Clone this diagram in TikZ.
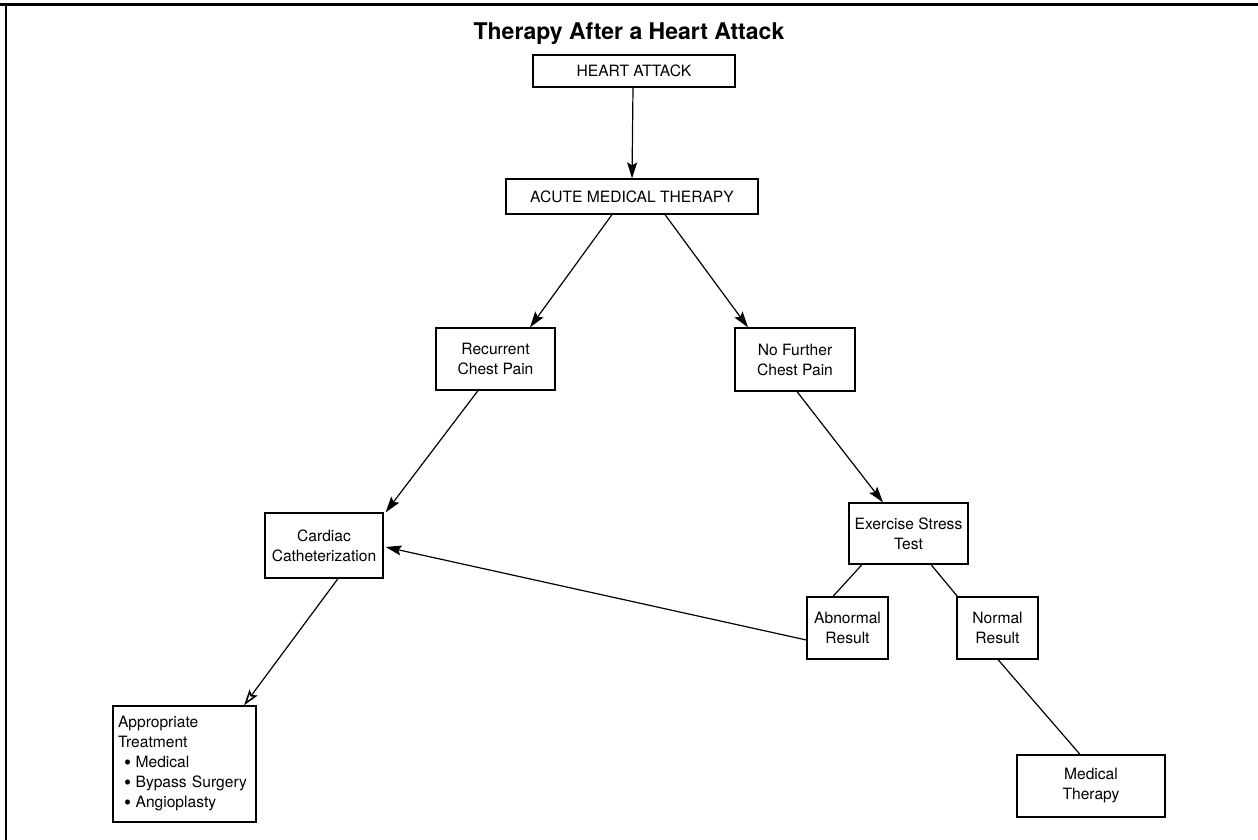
\documentclass[tikz,border=0pt]{standalone}
\usepackage{fontspec}
\setmainfont{TeX Gyre Heros}
\usetikzlibrary{arrows.meta,shadows,calc}
\newcommand{\bigbul}{\hspace*{6pt}\smash{\raisebox{-1.6pt}{\scalebox{1.3}{\textbullet}}}\hspace{4.5pt}}
\tikzset{
  box/.style={draw=black, line width=1.2pt, fill=white, inner sep=2pt, align=center,
    font=\fontsize{15.6}{20}\selectfont,
    drop shadow={shadow xshift=1.4pt, shadow yshift=-1.4pt, fill=black, opacity=1}},
  arr/.style={line width=1.2pt, -{Stealth[length=16pt,width=10pt,inset=3pt]}},
  oarr/.style={line width=1.2pt, -{Stealth[open,length=16pt,width=10pt,inset=3pt,line width=1.6pt]}},
  ln/.style={line width=1.2pt},
}
\begin{document}
\begin{tikzpicture}[x=1pt,y=-1pt]
\useasboundingbox (0,0) rectangle (1258,840);
\fill[white] (0,0) rectangle (1258,840);
% frame
\coordinate (ftl) at (6,5);
\coordinate (ftr) at (1258,5);
\coordinate (fbl) at (6,840);
\draw[line width=3pt] (0,5) -- (ftr);
\draw[line width=2.5pt] (ftl) -- (fbl);
% title
\node[anchor=base, font=\fontsize{23}{27}\bfseries\selectfont] (title) at (629,40) {Therapy After a Heart Attack};
% boxes
\node[box, minimum width=202pt, minimum height=32pt] (HA) at (634,71) {HEART ATTACK};
\node[box, minimum width=252pt, minimum height=35pt] (AMT) at (632,196.5) {ACUTE MEDICAL THERAPY};
\node[box, minimum width=119pt, minimum height=62pt] (RCP) at (495.5,359) {Recurrent\\Chest Pain};
\node[box, minimum width=120pt, minimum height=63pt] (NFCP) at (795,359.5) {No Further\\Chest Pain};
\node[box, minimum width=118pt, minimum height=65pt] (CC) at (324,545.5) {Cardiac\\Catheterization};
\node[box, minimum width=119pt, minimum height=61pt] (EST) at (908.5,533.5) {Exercise Stress\\Test};
\node[box, minimum width=81pt, minimum height=62pt] (AR) at (847.5,628) {Abnormal\\Result};
\node[box, minimum width=81pt, minimum height=62pt] (NR) at (997.5,628) {Normal\\Result};
\node[box, minimum width=143pt, minimum height=116pt, text width=133pt, inner xsep=5pt, align=left] (AT) at (184.5,764)
  {Appropriate\\Treatment\\\bigbul Medical\\\bigbul Bypass Surgery\\\bigbul Angioplasty};
\node[box, minimum width=148pt, minimum height=62pt] (MT) at (1091,786) {Medical\\Therapy};
% connectors
\draw[arr] ($(HA.south)+(-1,0)$) -- (AMT.north);
\draw[arr] ($(AMT.south)+(-20,0)$) -- ($(RCP.north)+(34.5,0)$);
\draw[arr] ($(AMT.south)+(33,0)$) -- ($(NFCP.north)+(-47,0)$);
\draw[arr] ($(RCP.south)+(-17.5,0)$) -- ($(CC.north east)+(2,0)$);
\draw[arr] ($(NFCP.south)+(2,0)$) -- ($(EST.north)+(-25.5,0)$);
\draw[ln] ($(EST.south)+(-46.5,0)$) -- ($(AR.north)+(-14.5,0)$);
\draw[ln] ($(EST.south)+(22.5,0)$) -- ($(NR.north west)+(1,0)$);
\draw[arr] ($(AR.west)+(0,12)$) -- ($(CC.east)+(2,1.5)$);
\draw[oarr] ($(CC.south)+(14,0)$) -- ($(AT.north)+(59.5,0)$);
\draw[ln] ($(NR.south)+(0.5,0)$) -- ($(MT.north)+(-11,0)$);
\end{tikzpicture}
\end{document}
